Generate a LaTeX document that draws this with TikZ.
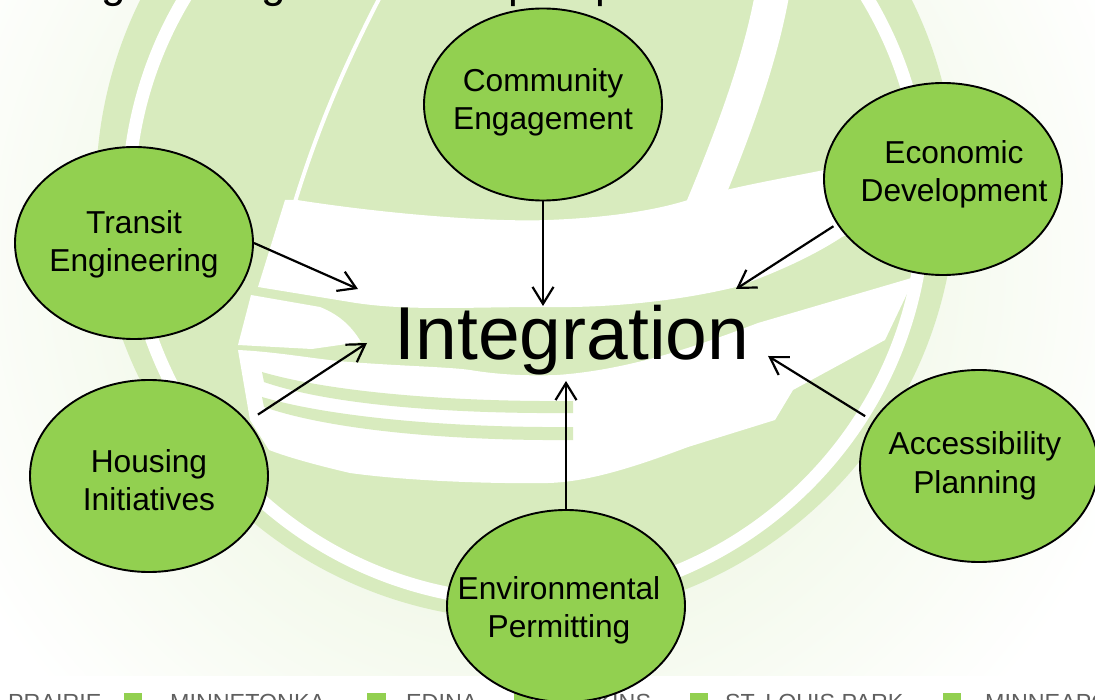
\documentclass[tikz,border=0pt]{standalone}
\usepackage{fontspec}
\setmainfont{Liberation Sans}
\usetikzlibrary{arrows.meta,shapes.geometric}
\definecolor{pale}{HTML}{D8EBBE}
\definecolor{nodegreen}{HTML}{92D050}
\definecolor{footgray}{HTML}{5F5F5F}
\tikzset{
  x=1pt,y=-1pt,
  bubble/.style={ellipse,draw=black,line width=1.9pt,fill=nodegreen,minimum width=238pt,minimum height=192pt,inner sep=0pt},
  bubbletext/.style={align=center,inner sep=0pt,font=\fontsize{31.7}{38.6}\selectfont},
  link/.style={draw=black,line width=2.2pt,-{Straight Barb[length=17pt,width=21pt,line width=2.2pt]}},
  whitearea/.style={fill=white,draw=none},
  foot/.style={font=\fontsize{23.3}{26}\selectfont,text=footgray,anchor=base west,inner sep=0pt},
  square/.style={fill=nodegreen,draw=none},
  cutoff/.style={font=\fontsize{44}{48}\selectfont,anchor=base west,inner sep=0pt}
}
\begin{document}
\begin{tikzpicture}
\useasboundingbox (0,0) rectangle (1095,700);
\clip (0,0) rectangle (1095,700);
\fill[white] (0,0) rectangle (1095,700);
% faded logo
\begin{scope}
\clip (0,0) rectangle (1095,675);
\shade[inner color=pale!70,outer color=white] (526,260) circle[radius=640];
\fill[pale] (526,190) circle[radius=430];
% upper white band
\path[whitearea] (297,200) .. controls (400,216) and (500,222) .. (548,220)
  .. controls (600,218) and (650,212) .. (688,200) -- (726,190)
  .. controls (760,182) and (800,175) .. (824,170) -- (915,130) -- (915,205) -- (842,237)
  .. controls (810,258) and (770,275) .. (736,287)
  .. controls (670,303) and (600,308) .. (544,307)
  .. controls (470,307) and (410,311) .. (356,303) -- (258,287) -- (285,200) -- cycle;
% left white piece
\path[whitearea] (251,295) -- (320,307) .. controls (340,315) and (352,327) .. (361,342)
  -- (312,349) -- (238,345) -- cycle;
% lower white area
\path[whitearea] (238,350) .. controls (280,352) and (320,360) .. (350,362)
  .. controls (400,366) and (450,367) .. (470,370)
  .. controls (500,375) and (530,376) .. (557,375)
  .. controls (630,370) and (700,345) .. (758,323)
  -- (915,277) -- (885,340) -- (793,390) -- (775,420) -- (688,447)
  .. controls (640,465) and (590,482) .. (548,483)
  .. controls (480,484) and (400,480) .. (350,473)
  .. controls (320,466) and (290,458) .. (269,450)
  -- (250,420) -- cycle;
% stripes in the lower white area
\fill[pale] (262,372) .. controls (330,392) and (450,402) .. (573,401) -- (573,413)
  .. controls (450,414) and (330,405) .. (264,382) -- cycle;
\fill[pale] (262,397) .. controls (330,417) and (450,428) .. (573,427) -- (573,440)
  .. controls (450,441) and (330,430) .. (264,407) -- cycle;
% rings and curves
\draw[white,line width=13pt] (526,203) circle[radius=398];
\draw[white,line width=34pt] (772,-5) .. controls (760,60) and (735,130) .. (698,218);
\draw[white,line width=4pt] (381,-5) .. controls (350,55) and (320,120) .. (294,205);
\end{scope}
% cut-off title
\node[cutoff] (ga) at (101,-2) {g};
\node[cutoff] (gb) at (261,-2) {g};
\node[cutoff] (pa) at (508,-2) {p};
\node[cutoff] (pb) at (595,-2) {p};
% footer
\node[foot] (fa) at (8,710) {PRAIRIE};
\fill[square] (124,693) rectangle (142,705);
\node[foot] (fb) at (170,710) {MINNETONKA};
\fill[square] (367,693) rectangle (386,705);
\node[foot] (fc) at (406,710) {EDINA};
\fill[square] (514,693) rectangle (533,705);
\node[foot] (fd) at (546,710) {HOPKINS};
\fill[square] (690,693) rectangle (708,705);
\node[foot] (fe) at (725,710) {ST. LOUIS PARK};
\fill[square] (943,693) rectangle (961,705);
\node[foot] (ff) at (985,710) {MINNEAPOLIS};
% bubbles
\node[bubble] (com) at (543,104.5) {};
\node[bubble] (eco) at (943,179) {};
\node[bubble] (tra) at (134,243) {};
\node[bubble] (hou) at (149,476) {};
\node[bubble] (acc) at (979,466) {};
\node[bubble] (env) at (566,606) {};
\node[bubbletext] (tcom) at (543,102.5) {Community\\Engagement};
\node[bubbletext] (teco) at (954,174.5) {Economic\\Development};
\node[bubbletext] (ttra) at (134,244.5) {Transit\\Engineering};
\node[bubbletext] (thou) at (149,480) {Housing\\Initiatives};
\node[bubbletext] (tacc) at (975,466) {Accessibility\\Planning};
\node[bubbletext] (tenv) at (559,610.5) {Environmental\\Permitting};
\node[inner sep=0pt,font=\fontsize{75}{80}\selectfont] (int) at (572,340) {Integration};
% arrow ends
\coordinate (tipcom) at (543,306);
\coordinate (tipeco) at (736,289);
\coordinate (tiptra) at (358,289);
\coordinate (tiphou) at (367,343);
\coordinate (tipacc) at (768,356);
\coordinate (tipenv) at (566,381);
\draw[link] (com.south) -- (tipcom);
\draw[link] (tra.east) -- (tiptra);
\draw[link,shorten <=4pt] (eco.203) -- (tipeco);
\draw[link,shorten <=12pt] (hou.29) -- (tiphou);
\draw[link,shorten <=9pt] (acc.157) -- (tipacc);
\draw[link] (env.north) -- (tipenv);
\end{tikzpicture}
\end{document}
